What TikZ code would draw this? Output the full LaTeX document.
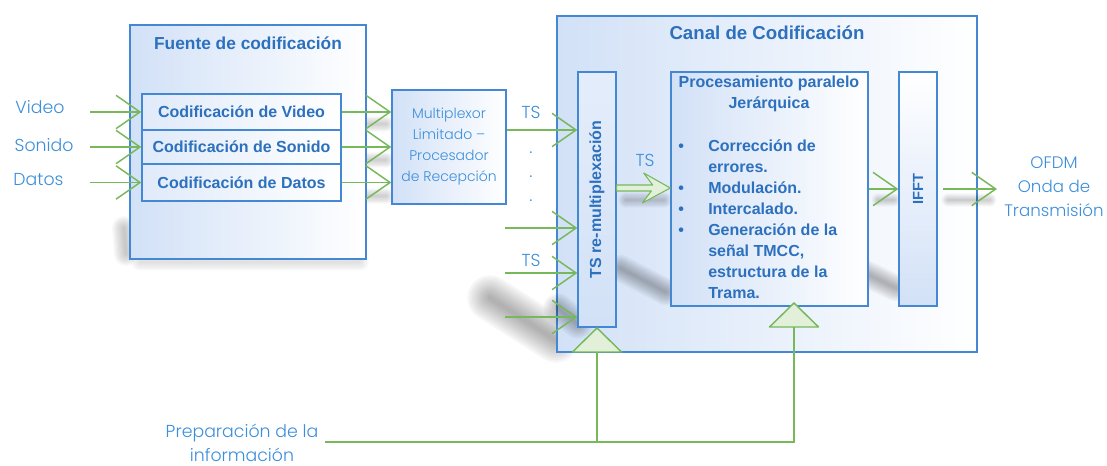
\documentclass[tikz,border=0pt]{standalone}
\usepackage{fontspec}
\setmainfont{Liberation Sans}
\newfontfamily\lightf{Poppins Light}
\usetikzlibrary{arrows.meta,calc}
\definecolor{bord}{RGB}{68,136,212}
\definecolor{bfill}{RGB}{210,225,247}
\definecolor{tblue}{RGB}{44,112,190}
\definecolor{lblue}{RGB}{60,142,218}
\definecolor{lgreen}{RGB}{118,184,90}
\definecolor{tfill}{RGB}{226,240,218}
% soft shadow band: #1 opacity per layer, #2 width in pt, #3 path
\newcommand\softband[3]{\foreach \f in {1,0.9,0.8,0.7,0.6,0.5,0.4,0.3,0.2,0.1}{\pgfmathsetmacro\lw{\f*#2}\draw[black, opacity=#1, line width=\lw pt, line cap=round, line join=round] #3;}}
\begin{document}
\begin{tikzpicture}[x=0.75pt,y=-0.75pt,
  box/.style={draw=bord, line width=1pt, inner sep=0pt},
  bt/.style={font=\bfseries\fontsize{12}{15.75}\selectfont, text=tblue},
  lt/.style={font=\lightf\fontsize{13}{18}\selectfont, text=lblue},
  conn/.style={draw=lgreen, line width=1.1pt, -{Straight Barb[length=18pt,width=25pt]}},
  plainline/.style={draw=lgreen, line width=1.1pt},
  tri/.style={draw=lgreen, line width=1.1pt, fill=tfill, line join=round}]
\useasboundingbox (0,0) rectangle (1107,466);

% soft shadows outside the boxes
\softband{0.012}{14}{(140,262) -- (360,262)}
\softband{0.025}{18}{(124,228) -- (126,254)}
\softband{0.02}{12}{(352,124) -- (386,124)}
\softband{0.02}{12}{(352,160) -- (386,160)}
\softband{0.02}{12}{(352,196) -- (386,196)}
\softband{0.035}{34}{(490,298) -- (556,340)}

% outer boxes
\node[box, minimum width=315pt, minimum height=252pt, left color=bfill, right color=white] (canal) at (767,184) {};
\node[font=\bfseries\fontsize{14}{17}\selectfont, text=tblue] (canalt) at (767,33) {Canal de Codificación};

\node[box, minimum width=177pt, minimum height=175.5pt, left color=bfill, right color=white] (fuente) at (248,142) {};
\node[font=\bfseries\fontsize{13}{16}\selectfont, text=tblue] (fuentet) at (248,43) {Fuente de codificación};

% shadows inside the channel box
\softband{0.03}{22}{(558,308) -- (578,324)}
\softband{0.03}{20}{(620,268) -- (666,292)}
\softband{0.03}{20}{(850,266) -- (896,288)}
\softband{0.02}{12}{(626,200) -- (664,200)}
\softband{0.02}{10}{(878,200) -- (894,200)}
\softband{0.02}{10}{(948,200) -- (990,200)}

% encoding boxes
\node[box, bt, minimum width=149.25pt, minimum height=27pt, left color=bfill!70!white, right color=white] (cv) at (241.5,112) {Codificación de Video};
\node[box, bt, minimum width=149.25pt, minimum height=25.5pt, left color=bfill!70!white, right color=white] (cs) at (241.5,147) {Codificación de Sonido};
\node[box, bt, minimum width=149.25pt, minimum height=27.75pt, left color=bfill!70!white, right color=white] (cd) at (241.5,182.5) {Codificación de Datos};

% inputs
\node[lt] (vid) at (40,107) {Video};
\node[lt] (son) at (44,145) {Sonido};
\node[lt] (dat) at (38.5,180) {Datos};
\coordinate (vin) at (90,112);
\coordinate (sin) at (90,147);
\coordinate (din) at (90,182.5);
\draw[conn] (vin) -- (cv.west);
\draw[conn] (sin) -- (cs.west);
\draw[conn] (din) -- (cd.west);

% multiplexor
\node[box, minimum width=85.5pt, minimum height=85.5pt, left color=bfill, right color=white, align=center, text=lblue, font=\lightf\fontsize{10.5}{15.75}\selectfont] (mux) at (449,147) {Multiplexor\\Limitado –\\Procesador\\de Recepción};
\draw[conn] (cv.east) -- (cv.east -| mux.west);
\draw[conn] (cs.east) -- (cs.east -| mux.west);
\draw[conn] (cd.east) -- (cd.east -| mux.west);

% TS re-multiplexacion
\node[box, minimum width=28.5pt, minimum height=191.25pt, top color=bfill!60!white, bottom color=bfill] (remux) at (597,199.5) {};
\node[bt, rotate=90] (remuxt) at (remux.center) {TS re-multiplexación};

\draw[conn] (mux.east |- 0,130) -- (remux.west |- 0,130);
\node[lt] (ts1) at (531,112) {TS};
\node[lt, anchor=base] (dot1) at (531,154) {.};
\node[lt, anchor=base] (dot2) at (531,178) {.};
\node[lt, anchor=base] (dot3) at (531,202) {.};
\coordinate (r2) at (505,228);
\coordinate (r3) at (505,273);
\coordinate (r4) at (505,317);
\draw[conn] (r2) -- (r2 -| remux.west);
\draw[conn] (r3) -- (r3 -| remux.west);
\draw[conn] (r4) -- (r4 -| remux.west);
\node[lt] (ts2) at (531,260) {TS};

% procesamiento
\node[box, minimum width=147.75pt, minimum height=175.5pt, left color=bfill, right color=white] (proc) at (769.5,189) {};
\node[bt, align=center] (proct) at (769,94) {Procesamiento paralelo\\Jerárquica};
\node[bt, anchor=north west, inner sep=0pt] (procl) at (678,137) {%
\begin{tabular}{@{}p{22.5pt}@{}l@{}}
\textbullet & Corrección de\\
 & errores.\\
\textbullet & Modulación.\\
\textbullet & Intercalado.\\
\textbullet & Generación de la\\
 & señal TMCC,\\
 & estructura de la\\
 & Trama.
\end{tabular}};

% double arrow
\draw[draw=lgreen, line width=0.8pt, fill=tfill, line join=round] (remux.east |- 0,185) -- ++(36,0) -- ++(-9,-12) -- (proc.west |- 0,188) -- ++(-28,15) -- ++(9,-12) -- (remux.east |- 0,191) -- cycle;
\node[lt] (ts3) at (645,160) {TS};

% IFFT
\node[box, minimum width=28.5pt, minimum height=175.5pt, top color=white, bottom color=bfill] (iff) at (918,189) {};
\node[bt, font=\bfseries\fontsize{11}{13}\selectfont, rotate=90] (ifft) at (iff.center) {IFFT};
\draw[conn] (proc.east) -- (iff.west);
\coordinate (out) at (997,189);
\draw[conn, shorten <=4pt] (iff.east) -- (out);
\node[lt, align=center, font=\lightf\fontsize{12.5}{18}\selectfont] (ofdm) at (1054,187) {OFDM\\Onda de\\Transmisión};

% triangles and info preparation
\coordinate (t1) at (597,352);
\coordinate (t2) at (794,327);
\draw[tri] (t1) ++(-24.5,0) -- ++(24.5,-24) -- ++(24.5,24) -- cycle;
\draw[tri] (t2) ++(-24.5,0) -- ++(24.5,-24) -- ++(24.5,24) -- cycle;
\node[lt] (prep) at (242,443) [align=center] {Preparación de la\\información};
\coordinate (pl) at (325,442);
\draw[plainline] (pl) -- (t2 |- pl) -- (t2);
\draw[plainline] (t1 |- pl) -- (t1);
\end{tikzpicture}
\end{document}
